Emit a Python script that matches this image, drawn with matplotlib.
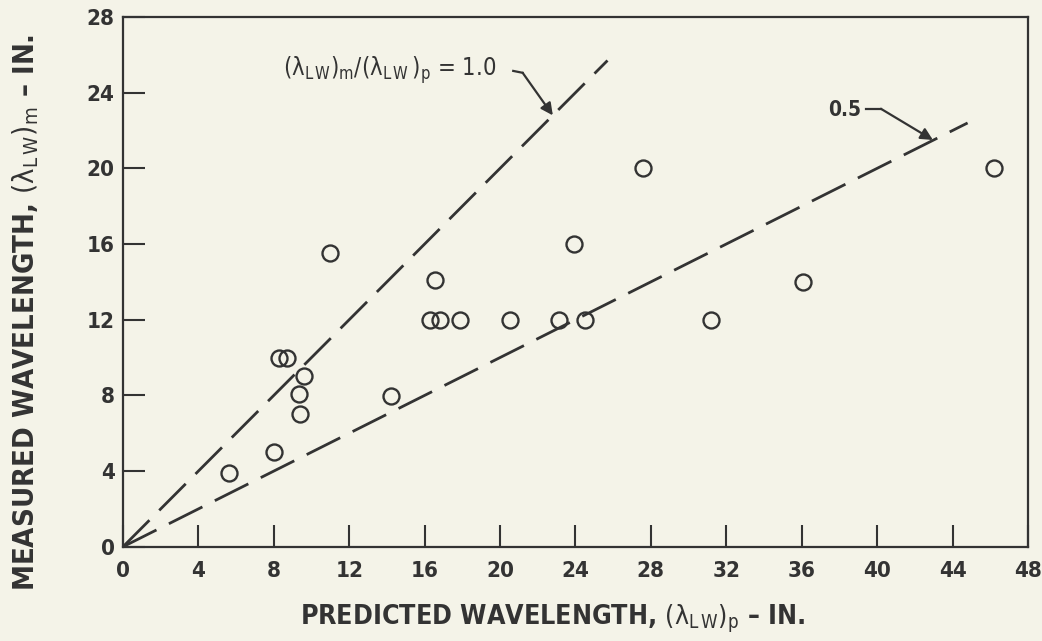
import matplotlib
matplotlib.use('Agg')
import matplotlib.pyplot as plt
import numpy as np

# measured vs predicted wavelength (inches)
pred = [5.6, 8.0, 8.3, 8.7, 9.6, 9.35, 9.4, 11.0, 14.2, 16.55, 16.3, 16.8,
        17.9, 20.55, 23.15, 24.5, 23.9, 27.6, 31.2, 36.05, 46.2]
meas = [3.9, 5.0, 10.0, 10.0, 9.05, 8.1, 7.0, 15.5, 7.95, 14.1, 12.0, 12.0,
        12.0, 12.0, 12.0, 12.0, 16.0, 20.0, 12.0, 14.0, 20.0]

# ratio lines (lambda_m / lambda_p) and where each one stops
ratios = [1.0, 0.5]
line_ends = [25.7, 44.8]

xticks = list(range(0, 49, 4))
yticks = list(range(0, 29, 4))

ink = '#333333'
paper = '#f4f3e8'

plt.rcParams['font.family'] = ['DejaVu Sans']
plt.rcParams['font.stretch'] = 'condensed'
plt.rcParams['mathtext.fontset'] = 'custom'
plt.rcParams['mathtext.rm'] = 'DejaVu Sans:stretch=condensed'
plt.rcParams['mathtext.default'] = 'rm'
plt.rcParams['lines.scale_dashes'] = False

fig = plt.figure(figsize=(10.42, 6.41), dpi=100, facecolor=paper)
ax = fig.add_axes([0.118, 0.147, 0.8685, 0.8265], facecolor=paper)

for r, xe in zip(ratios, line_ends):
    xs = np.array([0, xe])
    ax.plot(xs, r * xs, color=ink, lw=2.0, dashes=(27, 10))

ax.plot(pred, meas, 'o', ms=11.5, mfc='none', mec=ink, mew=1.7)

ax.set_xlim(0, 48)
ax.set_ylim(0, 28)
ax.set_xticks(xticks)
ax.set_yticks(yticks)
ax.tick_params(direction='in', length=16, width=1.5, color=ink,
               labelsize=16, labelcolor=ink)
ax.tick_params(axis='x', pad=10)
ax.tick_params(axis='y', pad=6)
for lab in ax.get_xticklabels() + ax.get_yticklabels():
    lab.set_fontweight('bold')
for s in ax.spines.values():
    s.set_linewidth(1.6)
    s.set_color(ink)

# labels on the ratio lines, with hooked leader arrows
ax.text(8.5, 25.2, r'$(\lambda_{L\,W})_{m}/(\lambda_{L\,W}\,)_{p}$ = 1.0',
        fontsize=17, color=ink, va='center', ha='left')
ax.plot([20.7, 21.2], [25.15, 25.05], color=ink, lw=1.6)
ax.annotate('', xy=(22.8, 22.8), xytext=(21.2, 25.05),
            arrowprops=dict(arrowstyle='-|>', color=ink, lw=1.6,
                            mutation_scale=18, shrinkA=0, shrinkB=0))

ax.text(37.4, 23.1, '0.5', fontsize=15, color=ink, va='center', ha='left',
        fontweight='bold')
ax.plot([39.4, 40.2], [23.15, 23.15], color=ink, lw=1.6)
ax.annotate('', xy=(42.96, 21.5), xytext=(40.2, 23.15),
            arrowprops=dict(arrowstyle='-|>', color=ink, lw=1.6,
                            mutation_scale=18, shrinkA=0, shrinkB=0))

ax.set_xlabel(r'PREDICTED WAVELENGTH, $(\lambda_{L\,W})_{p}$ – IN.',
              fontsize=19.2, fontweight='bold', color=ink)
ax.set_ylabel(r'MEASURED WAVELENGTH, $(\lambda_{L\,W})_{m}$ – IN.',
              fontsize=21, fontweight='bold', color=ink)
ax.xaxis.set_label_coords(0.475, -0.106)
ax.yaxis.set_label_coords(-0.091, 0.443)

fig.savefig('out.png', dpi=100, facecolor=paper)
